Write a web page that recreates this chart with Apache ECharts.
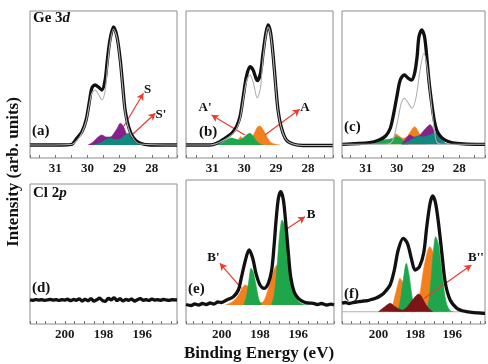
<!DOCTYPE html>
<html>
<head>
<meta charset="utf-8">
<script src="https://cdn.jsdelivr.net/npm/echarts@6/dist/echarts.min.js"></script>
<style>html,body{margin:0;padding:0;background:#fff}#c{width:488px;height:364px}</style>
</head>
<body>
<div id="c"></div>
<script>
// ---------- DATA (binding energy eV, intensity arb.) ----------
const geTickLabels = [31, 30, 29, 28];
const clTickLabels = [200, 198, 196];

// (a) Ge 3d
const aData = [[31.78,13],[30.84,13],[30.50,13.5],[30.33,19.7],[30.17,26.3],[30.04,38],[29.93,58],[29.86,70],[29.76,73],[29.66,71],[29.55,68],[29.45,78],[29.38,98],[29.30,118],[29.19,131],[29.08,121],[28.98,98],[28.90,71],[28.83,48],[28.72,31],[28.57,20],[28.36,14.7],[28.05,13],[27.22,13]];
const aFit = [[31.78,13],[30.50,13.5],[30.30,18.5],[30.17,25],[30.04,36.5],[29.93,55],[29.86,65],[29.76,68],[29.66,64],[29.55,58],[29.45,67],[29.38,90],[29.30,114],[29.19,129],[29.08,120],[28.98,96],[28.90,69],[28.83,46],[28.72,29],[28.57,19],[28.36,14],[27.22,13]];
const aS = [[29.98,13],[29.82,16],[29.70,20],[29.55,23],[29.42,21],[29.29,21],[29.17,25],[29.07,30],[28.98,34.7],[28.89,32],[28.80,25],[28.70,18],[28.61,13]];
const aS2 = [[29.82,13],[29.60,15],[29.45,18],[29.29,19.7],[29.14,18.5],[28.98,19],[28.83,23],[28.72,24.7],[28.61,22],[28.45,17],[28.27,14],[28.14,13]];

// (b)
const bData = [[31.82,13],[31.07,13],[30.86,14.7],[30.60,19.7],[30.39,24.7],[30.24,31.3],[30.13,41.3],[30.03,61.3],[29.93,81.3],[29.82,91.3],[29.72,88],[29.59,77.3],[29.49,84.7],[29.41,104.7],[29.32,124.7],[29.25,133],[29.17,124.7],[29.09,101.3],[29.01,71.3],[28.94,48],[28.83,29.7],[28.68,18],[28.47,14],[28.16,12.5],[27.23,12.5]];
const bFit = [[31.82,13],[31.07,13],[30.86,14.5],[30.60,18.5],[30.39,23],[30.24,29],[30.13,39],[30.03,58],[29.93,76],[29.82,83],[29.72,76],[29.59,60],[29.49,70],[29.41,99],[29.32,122],[29.25,131],[29.17,123],[29.09,100],[29.01,70],[28.94,47],[28.83,29],[28.68,18],[28.47,14],[28.16,12.5],[27.23,12.5]];
const bA1 = [[30.86,13],[30.65,16],[30.50,19],[30.39,20],[30.28,19],[30.15,18],[30.03,20],[29.93,23],[29.82,24.7],[29.72,22],[29.62,17],[29.50,14],[29.40,13]];
const bA = [[30.30,13],[30.20,17],[30.11,21.3],[30.00,18],[29.90,17],[29.78,19],[29.68,25],[29.58,31],[29.51,32],[29.42,29],[29.30,22],[29.18,16],[29.05,14],[28.88,13]];

// (c)
const cData = [[31.75,13.7],[30.88,15.3],[30.57,18],[30.36,22],[30.21,29.7],[30.10,44.7],[30.00,61.3],[29.89,78],[29.76,83],[29.63,79.7],[29.53,78],[29.43,84.7],[29.35,101.3],[29.29,121.3],[29.20,128],[29.11,121.3],[29.03,98],[28.96,74.7],[28.88,54.7],[28.80,38],[28.70,26.3],[28.54,19.7],[28.33,16.3],[28.07,14.7],[27.45,13.7],[27.17,13.7]];
const cFit = [[31.75,13.7],[30.40,13.7],[30.20,15],[30.10,20],[29.95,41],[29.86,54.7],[29.76,59.7],[29.63,54.7],[29.51,49.7],[29.38,61],[29.27,84.7],[29.13,104.7],[29.03,91.3],[28.93,64.7],[28.85,41.3],[28.78,24.7],[28.72,16.3],[28.55,13.7],[27.17,13.7]];
const cGreen = [[30.83,13.7],[30.65,15.5],[30.47,18],[30.30,18.5],[30.15,19.5],[30.00,21.3],[29.85,19],[29.72,15],[29.63,13.7]];
const cOrange = [[30.22,13.7],[30.12,19],[30.03,24],[29.93,22],[29.80,19.7],[29.68,21],[29.55,27],[29.43,31.3],[29.32,27],[29.20,19],[29.06,13.7]];
const cPurple = [[29.84,13.7],[29.72,19],[29.58,23],[29.45,21],[29.30,22],[29.12,28],[28.93,33.3],[28.80,27],[28.70,18],[28.64,13.7]];
const cTeal = [[29.84,13.7],[29.60,17],[29.45,20],[29.32,22],[29.15,21],[28.95,23],[28.75,25.3],[28.60,20],[28.45,15],[28.28,13.7]];

// (d) Cl 2p, no signal
const dData = [[201.8,24.2],[201.65,23.6],[201.5,24.5],[201.35,23.9],[201.2,24.4],[201.05,23.7],[200.9,24.1],[200.75,24.6],[200.6,23.8],[200.45,24.3],[200.3,23.5],[200.15,24.4],[200.0,23.9],[199.85,24.8],[199.7,23.2],[199.55,24.6],[199.4,23.7],[199.25,25.2],[199.1,22.8],[198.95,24.9],[198.8,23.1],[198.65,25.6],[198.5,22.6],[198.35,24.2],[198.2,26.1],[198.05,23.4],[197.9,22.5],[197.75,25.8],[197.6,24.0],[197.45,26.5],[197.3,23.2],[197.15,25.4],[197.0,22.9],[196.85,24.7],[196.7,23.6],[196.55,25.1],[196.4,22.8],[196.25,24.3],[196.1,25.6],[195.95,23.7],[195.8,24.4],[195.65,23.5],[195.5,25.0],[195.35,23.9],[195.2,24.3],[195.05,23.6],[194.9,24.6],[194.75,24.0],[194.6,23.7],[194.45,24.4],[194.3,24.1],[194.2,24.0]];

// (e)
const eData = [[201.86,19.5],[201.6,18.5],[201.4,20],[201.2,19],[201.0,20.5],[200.8,19.5],[200.6,21],[200.4,20],[200.2,22],[200.0,21.5],[199.74,24],[199.39,27.3],[199.13,34],[198.96,47.3],[198.78,62.3],[198.57,74],[198.38,65.7],[198.21,50.7],[198.00,39],[197.79,35.7],[197.57,40.7],[197.39,54],[197.27,77.3],[197.16,104],[197.04,125.7],[196.92,132.3],[196.78,124],[196.64,97.3],[196.52,70.7],[196.40,47.3],[196.22,32.3],[196.00,25.7],[195.74,22.3],[195.5,21],[195.22,20.7],[195.0,19.5],[194.8,20.5],[194.52,19],[194.3,19.8],[194.14,19]];
const eOrange = [[199.80,19],[199.45,22],[199.15,28],[198.95,35],[198.78,39],[198.60,37],[198.40,30],[198.20,24],[198.00,21],[197.80,23],[197.60,33],[197.40,46],[197.20,57],[197.10,59],[196.95,55],[196.75,44],[196.55,32],[196.30,24],[196.00,20.5],[195.80,19]];
const eGreen1 = [[198.85,19],[198.70,28],[198.57,45],[198.47,55.7],[198.35,52],[198.20,38],[198.05,24],[197.90,19]];
const eGreen2 = [[197.40,19],[197.25,30],[197.10,60],[197.00,85],[196.90,101],[196.85,104],[196.75,100],[196.62,88],[196.50,68],[196.40,50],[196.25,35],[196.05,24],[195.80,20],[195.55,19]];

// (f)
const fData = [[201.98,20.7],[201.8,21.5],[201.6,20.5],[201.4,21.3],[201.2,22],[201.0,22.5],[200.8,23],[200.6,23.3],[200.4,24.5],[200.16,25.7],[199.92,28],[199.72,30.7],[199.37,39],[199.14,54],[198.93,74],[198.66,85.7],[198.43,80.7],[198.22,65.7],[198.01,54],[197.78,57.3],[197.55,70.7],[197.38,97.3],[197.20,120.7],[197.06,128],[196.90,120.7],[196.72,97.3],[196.54,67.3],[196.37,40.7],[196.11,24],[195.75,15.7],[195.5,13.5],[195.22,12.3],[195.0,11.8],[194.7,11.2],[194.34,10.7],[194.22,10.7]];
const fBase = [[201.98,12.3],[194.22,12.3]];
const fOrange1 = [[199.45,12.3],[199.25,18],[199.05,32],[198.90,43],[198.84,45.7],[198.70,42],[198.55,30],[198.35,18],[198.15,13],[198.05,12.3]];
const fOrange2 = [[197.95,12.3],[197.75,30],[197.55,55],[197.35,72],[197.22,77.3],[197.05,72],[196.85,52],[196.65,30],[196.45,17],[196.25,12.3]];
const fGreen1 = [[198.95,12.3],[198.80,25],[198.65,45],[198.49,60.7],[198.35,50],[198.20,30],[198.05,15],[197.90,12.3]];
const fGreen2 = [[197.40,12.3],[197.25,25],[197.10,55],[196.98,80],[196.90,87.3],[196.75,80],[196.60,58],[196.45,35],[196.30,20],[196.10,13],[195.95,12.3]];
const fRed = [[200.00,12.3],[199.75,16],[199.50,19.5],[199.37,20.7],[199.15,18],[198.90,15],[198.70,14],[198.45,17],[198.20,23],[197.95,28.5],[197.81,30],[197.65,27],[197.45,20],[197.25,15],[197.05,12.3]];

// arrows [from, to] in data coords
const arrowsA = [[[28.88,31.3],[28.26,64.7]], [[28.62,23],[27.89,44.7]]];
const arrowsB = [[[29.98,23],[31.02,43]], [[29.35,23],[28.26,48.7]]];
const arrowsE = [[[196.69,94],[195.65,107.3]], [[198.96,35.7],[200.09,60.7]]];
const arrowsF = [[[197.51,25.7],[194.96,59]]];

// ---------- STYLE ----------
const SERIF = "'Liberation Serif','DejaVu Serif','Times New Roman',serif";
const COL = {purple:'#86208a', teal:'#10897f', orange:'#f3801f', green:'#1fa64a', red:'#7c1517'};
const grids = [
  {left:30, top:11, width:147, height:147},
  {left:186, top:11, width:147, height:147},
  {left:342, top:11, width:147, height:147},
  {left:30, top:184, width:147, height:140},
  {left:186, top:180, width:148, height:144},
  {left:342, top:180, width:147, height:144}
];
const xr = [[27.22,31.78],[27.22,31.82],[27.17,31.76],[194.2,201.8],[194.14,201.86],[194.22,201.98]];

function labelFmt(i){
  const list = i < 3 ? geTickLabels : clTickLabels;
  return v => {
    const r = Math.round(v);
    return (Math.abs(v - r) < 1e-6 && list.indexOf(r) >= 0) ? String(r) : '';
  };
}

const xAxis = grids.map((g,i)=>({
  gridIndex:i, type:'value', inverse:true, min:xr[i][0], max:xr[i][1],
  splitNumber: i<3 ? 9 : 15, minInterval:0.5, maxInterval:0.5,
  axisLine:{show:false},
  axisTick:{show:true, inside:true, length:3, lineStyle:{color:'#777', width:1}},
  axisLabel:{formatter:labelFmt(i), fontFamily:SERIF, fontWeight:'bold', fontSize:13, color:'#1a1a1a', margin:4, showMinLabel:true, showMaxLabel:true, hideOverlap:false},
  splitLine:{show:false}
}));
const yAxis = grids.map((g,i)=>({gridIndex:i, type:'value', min:0, max:g.height, show:false}));

function dataLine(i, pts, smooth){
  return {type:'line', xAxisIndex:i, yAxisIndex:i, data:pts, symbol:'none', smooth: smooth===false?false:0.3,
    lineStyle:{color:'#111', width:3.3}, z:5, silent:true};
}
function thin(i, pts, z){
  return {type:'line', xAxisIndex:i, yAxisIndex:i, data:pts, symbol:'none', smooth:0.3,
    lineStyle:{color:'#b0b0b0', width:1.1}, z:z||6, silent:true};
}
function comp(i, pts, color, base, z){
  return {type:'line', xAxisIndex:i, yAxisIndex:i, data:pts, symbol:'none', smooth:0.3,
    lineStyle:{color:color, width:0.6}, areaStyle:{color:color, opacity:1, origin:base}, z:z, silent:true};
}
function arrows(i, list){
  return {type:'line', xAxisIndex:i, yAxisIndex:i, data:[], silent:true, z:8,
    markLine:{silent:true, animation:false, symbol:['none','arrow'], symbolSize:[6,7],
      lineStyle:{color:'#ee3a2c', width:1.2, type:'solid'}, label:{show:false},
      data: list.map(a=>[{coord:a[0]},{coord:a[1]}])}};
}

const series = [
  comp(0,aS,COL.purple,13,2), comp(0,aS2,COL.teal,13,3), dataLine(0,aData), thin(0,aFit), arrows(0,arrowsA),
  comp(1,bA,COL.orange,13,2), comp(1,bA1,COL.green,13,3), dataLine(1,bData), thin(1,bFit), arrows(1,arrowsB),
  comp(2,cOrange,COL.orange,13.7,2), comp(2,cGreen,COL.green,13.7,3), comp(2,cPurple,COL.purple,13.7,4), comp(2,cTeal,COL.teal,13.7,4), dataLine(2,cData), thin(2,cFit),
  dataLine(3,dData,false),
  comp(4,eOrange,COL.orange,19,2), comp(4,eGreen1,COL.green,19,3), comp(4,eGreen2,COL.green,19,3), dataLine(4,eData), arrows(4,arrowsE),
  thin(5,fBase,1), comp(5,fOrange1,COL.orange,12.3,2), comp(5,fOrange2,COL.orange,12.3,2), comp(5,fGreen1,COL.green,12.3,3), comp(5,fGreen2,COL.green,12.3,3), comp(5,fRed,COL.red,12.3,4), dataLine(5,fData), arrows(5,arrowsF)
];

function txt(x,y,text,size){
  return {type:'text', x:x, y:y, z:20, style:{text:text, fontFamily:SERIF, fontWeight:'bold', fontSize:size, fill:'#111', align:'left', verticalAlign:'middle'}};
}
function ctxt(x,y,text,size){
  const t = txt(x,y,text,size); t.style.align='center'; return t;
}
const rich = {b:{fontFamily:SERIF, fontWeight:'bold', fontSize:15, fill:'#111'}, i:{fontFamily:SERIF, fontWeight:'bold', fontStyle:'italic', fontSize:15, fill:'#111'}};
const graphic = [
  {type:'text', x:33, y:18, z:20, style:{text:'{b|Ge 3}{i|d}', rich:rich, verticalAlign:'middle', fontFamily:SERIF}},
  {type:'text', x:33, y:193, z:20, style:{text:'{b|Cl 2}{i|p}', rich:rich, verticalAlign:'middle', fontFamily:SERIF}},
  txt(32,131,'(a)',15), txt(199,132,'(b)',15), txt(344,127,'(c)',15),
  txt(32,288,'(d)',15), txt(188,289,'(e)',15), txt(344,294,'(f)',15),
  ctxt(147.5,90,'S',13), ctxt(161,115,"S'",13), ctxt(205,108,"A'",13), ctxt(305,108,'A',13),
  ctxt(311,215,'B',13), ctxt(213.5,257.5,"B'",13), ctxt(476,258,"B''",13),
  ctxt(259,354,'Binding Energy (eV)',17),
  {type:'text', x:14, y:172, rotation:Math.PI/2, z:20, style:{text:'Intensity (arb. units)', fontFamily:SERIF, fontWeight:'bold', fontSize:17, fill:'#111', align:'center', verticalAlign:'middle'}}
];

const chart = echarts.init(document.getElementById('c'), null, {renderer:'canvas'});
chart.setOption({
  animation:false,
  backgroundColor:'#fff',
  grid: grids.map(g=>Object.assign({show:true, borderColor:'#8c8c8c', borderWidth:1, backgroundColor:'transparent'}, g)),
  xAxis, yAxis, series, graphic
});
</script>
</body>
</html>
